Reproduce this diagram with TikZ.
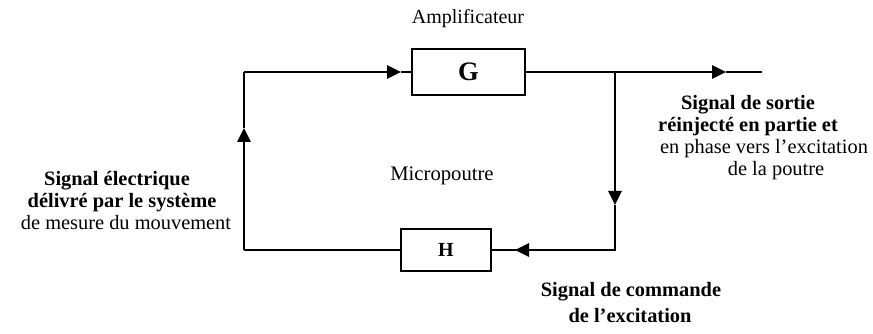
\documentclass[tikz,border=0pt]{standalone}
\usepackage{fontspec}
\setmainfont{Liberation Serif}
\usetikzlibrary{arrows.meta}
\begin{document}
\begin{tikzpicture}[x=0.75pt,y=-0.75pt,
  wire/.style={line width=1.4pt,line join=miter},
  arr/.style={wire,-{Triangle[length=10.5pt,width=10pt]}},
  blockbox/.style={draw,line width=1.2pt,inner sep=0pt},
  lbl/.style={font=\fontsize{15.3}{17}\selectfont,inner sep=0pt,text height=1.6ex,text depth=0.3ex},
  blbl/.style={font=\fontsize{15.3}{17}\selectfont\bfseries,inner sep=0pt,text height=1.6ex,text depth=0.3ex}]
\useasboundingbox (0,0) rectangle (873,334);
\node[blockbox,minimum width=84.75pt,minimum height=34.5pt,font=\fontsize{20}{22}\selectfont\bfseries] (G) at (468.5,72) {G};
\node[blockbox,minimum width=67.5pt,minimum height=31.5pt,font=\fontsize{15}{17}\selectfont\bfseries] (H) at (446,250) {H};
\coordinate (tl) at (244,72);
\coordinate (bl) at (244,250);
\coordinate (j) at (615,72);
\coordinate (br) at (615,250);
\coordinate (out) at (762,72);
\coordinate (ao) at (726,72);
\coordinate (ag) at (401,72);
\coordinate (al) at (244,128);
\coordinate (ad) at (615,205);
\coordinate (ah) at (515,250);
\draw[wire] (G.east) -- (j);
\draw[arr] (j) -- (ao);
\draw[wire] (ao) -- (out);
\draw[arr] (j) -- (ad);
\draw[wire] (ad) -- (br) -- (ah);
\draw[arr] (br) -- (ah);
\draw[wire] (ah) -- (H.east);
\draw[wire] (H.west) -- (bl);
\draw[arr] (bl) -- (al);
\draw[wire] (al) -- (tl);
\draw[arr] (tl) -- (ag);
\draw[wire] (ag) -- (G.west);
\node[lbl,font=\fontsize{15}{17}\selectfont] (amp) at (468,20) {Amplificateur};
\node[lbl,font=\fontsize{15.5}{17}\selectfont] (micro) at (442,177) {Micropoutre};
\node[blbl] (l1) at (117,182) {Signal électrique};
\node[blbl] (l2) at (122,204) {délivré par le système};
\node[lbl] (l3) at (126,226) {de mesure du mouvement};
\node[blbl] (r1) at (748,106) {Signal de sortie};
\node[blbl] (r2) at (748,128) {réinjecté en partie et};
\node[lbl] (r3) at (764,150) {en phase vers l’excitation};
\node[lbl] (r4) at (776,172) {de la poutre};
\node[blbl] (b1) at (631,293) {Signal de commande};
\node[blbl] (b2) at (630,319) {de l’excitation};
\end{tikzpicture}
\end{document}
